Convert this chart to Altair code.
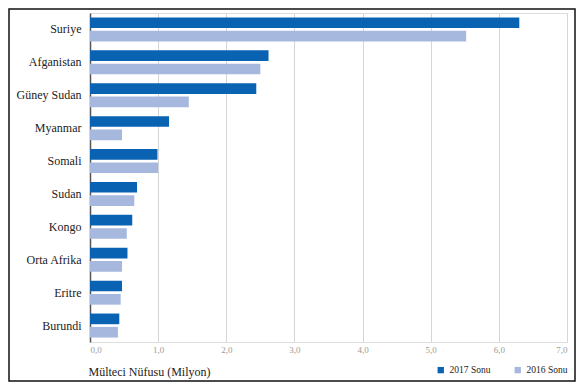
import altair as alt
import pandas as pd

countries = ["Suriye", "Afganistan", "Güney Sudan", "Myanmar", "Somali",
             "Sudan", "Kongo", "Orta Afrika", "Eritre", "Burundi"]
v2017 = [6.30, 2.62, 2.44, 1.16, 0.99, 0.69, 0.62, 0.55, 0.47, 0.43]
v2016 = [5.52, 2.50, 1.45, 0.47, 1.00, 0.65, 0.54, 0.47, 0.45, 0.41]
series = ["2017 Sonu", "2016 Sonu"]
colors = ["#0a62b3", "#a7b8df"]
ticks = [0, 1, 2, 3, 4, 5, 6, 7]

rows = []
for c, a, b in zip(countries, v2017, v2016):
    rows.append({"ulke": c, "seri": series[0], "deger": a})
    rows.append({"ulke": c, "seri": series[1], "deger": b})
df = pd.DataFrame(rows)

W, H = 477, 329
PL, PT, PR, PB = 82, 5, 9, 40
FONT = "Liberation Serif"

bars = alt.Chart(df).mark_bar().encode(
    y=alt.Y("ulke:N", sort=countries,
            scale=alt.Scale(paddingInner=0.27, paddingOuter=0.135),
            axis=alt.Axis(title=None, ticks=False, labelPadding=9,
                          labelFont=FONT, labelFontSize=12, labelColor="#222",
                          domainColor="#555", domainWidth=1.5, grid=False)),
    yOffset=alt.YOffset("seri:N", sort=series,
                        scale=alt.Scale(paddingInner=0.2)),
    x=alt.X("deger:Q", scale=alt.Scale(domain=[0, 7], nice=False),
            axis=alt.Axis(values=ticks, format=".1f", labelExpr="replace(datum.label, '.', ',')",
                          title="Mülteci Nüfusu (Milyon)", titleFont=FONT,
                          titleFontSize=12, titleFontWeight="normal",
                          titleColor="#222", titleAlign="left", titleAnchor="start",
                          titleX=-2, titleY=29, titleBaseline="middle",
                          labelFont=FONT, labelFontSize=9, labelColor="#9a9a9a",
                          labelPadding=3, ticks=False, domain=False,
                          grid=True, gridColor="#d6d6d6", gridWidth=1)),
    color=alt.Color("seri:N", sort=series,
                    scale=alt.Scale(domain=series, range=colors),
                    legend=alt.Legend(title=None, orient="none", legendX=346,
                                      legendY=352, direction="horizontal",
                                      symbolType="square", symbolSize=40,
                                      symbolStrokeWidth=0, labelFont=FONT,
                                      labelFontSize=9.5, labelColor="#222",
                                      labelOffset=4, columnPadding=22)),
)

frame_df = pd.DataFrame({"k": [0]})
frame = alt.Chart(frame_df).mark_rect(fill=None, stroke="#111", strokeWidth=1.5).encode(
    x=alt.value(-PL + 1), x2=alt.value(W + PR - 1),
    y=alt.value(-PT + 1), y2=alt.value(H + PB - 1),
)

chart = alt.layer(bars, frame).properties(
    width=W, height=H,
    autosize=alt.AutoSizeParams(type="none"),
    padding={"left": PL, "top": PT, "right": PR, "bottom": PB},
).configure_view(stroke=None).configure(
    background="white", font=FONT,
)

chart.save("out.html", embed_options={"renderer": "svg", "actions": False})
